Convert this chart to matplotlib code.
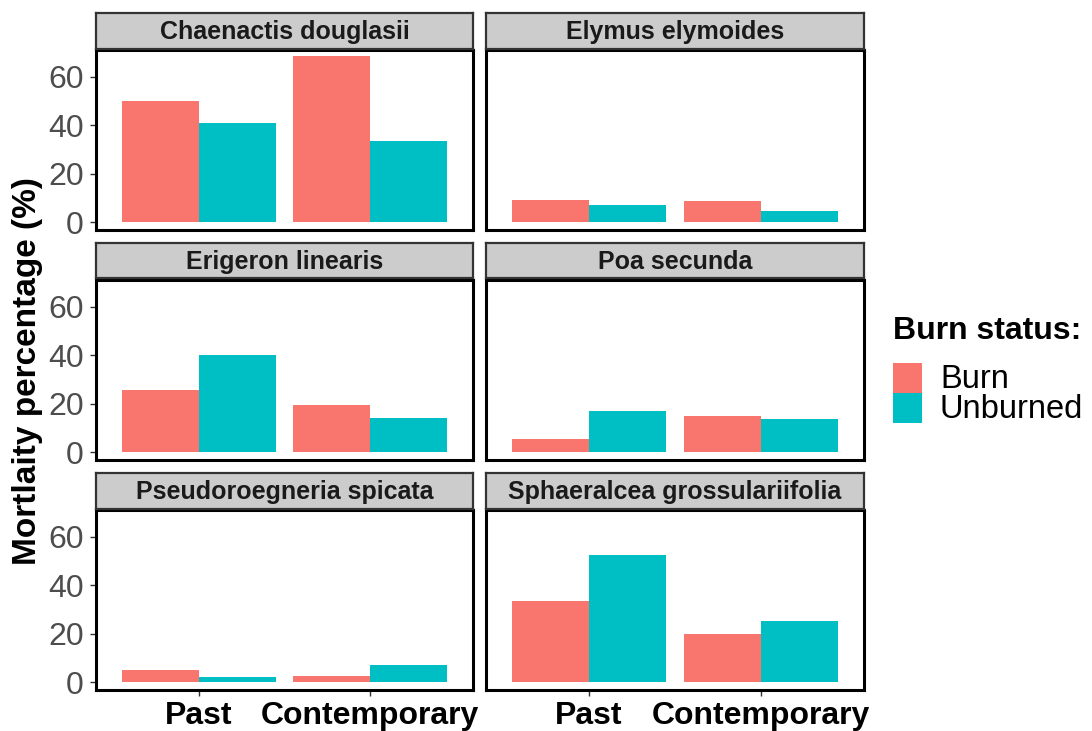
import matplotlib
matplotlib.use('Agg')
import matplotlib.pyplot as plt
from matplotlib.patches import Rectangle
import numpy as np

plt.rcParams['font.family'] = ['Liberation Sans', 'DejaVu Sans']

species = ['Chaenactis douglasii', 'Elymus elymoides',
           'Erigeron linearis', 'Poa secunda',
           'Pseudoroegneria spicata', 'Sphaeralcea grossulariifolia']
periods = ['Past', 'Contemporary']
status = ['Burn', 'Unburned']

# mortality (%) per species: [Past, Contemporary]
burn = [[50.1, 68.8], [9.2, 8.8], [25.9, 19.4],
        [5.5, 15.0], [5.1, 2.6], [33.5, 19.8]]
unburned = [[41.1, 33.5], [7.3, 4.7], [40.1, 14.1],
            [16.9, 13.6], [2.3, 7.0], [52.4, 25.3]]

colors = ['#F8766D', '#00BFC4']

W, H = 1092, 731
fig = plt.figure(figsize=(W/100, H/100), dpi=100)

def box(x0, y0, x1, y1):
    return [x0/W, 1 - y1/H, (x1 - x0)/W, (y1 - y0)/H]

cols = [(96, 473), (486, 864)]
rows = [(50, 229.5), (280, 459.5), (510, 689.5)]
strip_h = 37

x = np.arange(1, 3)
bw = 0.45
for i, sp in enumerate(species):
    r, c = divmod(i, 2)
    (x0, x1), (y0, y1) = cols[c], rows[r]
    ax = fig.add_axes(box(x0, y0, x1, y1))
    ax.bar(x - bw/2, burn[i], width=bw, color=colors[0], edgecolor='none')
    ax.bar(x + bw/2, unburned[i], width=bw, color=colors[1], edgecolor='none')
    ax.set_xlim(0.4, 2.6)
    ax.set_ylim(-2.9, 71.1)
    ax.set_yticks([0, 20, 40, 60])
    ax.set_xticks(x)
    for s in ax.spines.values():
        s.set_linewidth(2.2)
        s.set_color('black')
    ax.tick_params(axis='both', length=4, width=1, color='#333333',
                   labelsize=23, labelcolor='#4D4D4D')
    ax.tick_params(axis='y', pad=5)
    ax.tick_params(axis='x', pad=4)
    if c == 0:
        ax.set_yticklabels(['0', '20', '40', '60'])
    else:
        ax.tick_params(axis='y', length=0, labelleft=False)
    if r == 2:
        ax.set_xticklabels(periods, fontsize=23, fontweight='bold', color='black')
    else:
        ax.tick_params(axis='x', length=0, labelbottom=False)

    # facet strip
    sax = fig.add_axes(box(x0, y0 - strip_h, x1, y0 - 1.5))
    sax.set_facecolor('#CCCCCC')
    sax.set_xticks([])
    sax.set_yticks([])
    for s in sax.spines.values():
        s.set_linewidth(1.6)
        s.set_color('#333333')
    sax.text(0.5, 0.47, sp, ha='center', va='center', fontsize=18,
             fontweight='bold', color='#1A1A1A', transform=sax.transAxes)

fig.text(28/W, 1 - 371/H, 'Mortlaity percentage (%)', rotation=90,
         ha='center', va='center', fontsize=24, fontweight='bold')

# legend drawn by hand
fig.text(893/W, 1 - 331/H, 'Burn status:', ha='left', va='center',
         fontsize=23, fontweight='bold')
for k in range(2):
    ky = 363 + 30*k
    fig.patches.append(Rectangle((893/W, 1 - (ky + 30)/H), 29/W, 30/H,
                                 transform=fig.transFigure,
                                 facecolor=colors[k], edgecolor='none'))
    fig.text(940/W, 1 - (ky + 16)/H, status[k], ha='left', va='center',
             fontsize=23.5)

fig.savefig('out.png', dpi=100)
